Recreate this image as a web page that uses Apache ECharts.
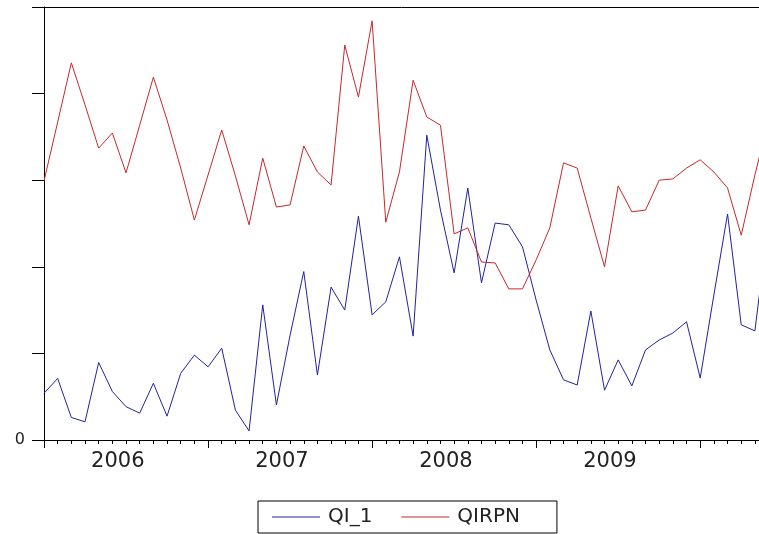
<!DOCTYPE html>
<html><head><meta charset="utf-8">
<script src="https://cdn.jsdelivr.net/npm/echarts@6/dist/echarts.min.js"></script>
<style>html,body{margin:0;padding:0;background:#fff}#c{width:759px;height:534px}</style>
</head><body><div id="c"></div>
<script>
const startYear = 2006;
const yearLabels = ['2006', '2007', '2008', '2009'];
const seriesNames = ['QI_1', 'QIRPN'];
const qi1 = [10.8,14.2,5.2,4.2,17.9,11.2,7.7,6.2,13.1,5.5,
  15.4,19.6,16.9,21.2,6.9,2.1,31.2,8.1,24.2,38.9,
  15.0,35.3,30.0,51.7,28.9,31.9,42.3,24.0,70.4,53.1,
  38.6,58.2,36.3,50.1,49.7,44.6,32.3,20.8,13.9,12.7,
  29.8,11.5,18.5,12.5,20.8,23.1,24.7,27.3,14.3,33.5,
  52.2,26.6,25.2,50.8];
const qirpn = [59.8,73.4,87.1,77.4,67.4,70.9,61.7,72.7,83.8,73.9,
  62.8,50.8,61.2,71.6,61.0,49.7,65.1,53.8,54.3,67.9,
  61.9,58.9,91.2,79.2,96.8,50.3,61.9,83.1,74.6,72.7,
  47.6,49.0,41.1,40.9,34.9,34.9,41.6,49.0,64.0,62.8,
  51.3,40.0,58.7,52.7,53.1,60.0,60.3,62.8,64.7,61.9,
  58.2,47.3,61.2,73.9];
const yearTickValues = [0, 12, 24, 36, 48];
const yearLabelValues = [5.4, 17.4, 29.4, 41.4];

const months = [];
for (let i = 0; i < qi1.length; i++) months.push(i);
const xMax = 52.3;
const blue = '#22229e', red = '#c8282a';

const chart = echarts.init(document.getElementById('c'), null, {renderer: 'canvas'});
const black = '#000';
chart.setOption({
  animation: false,
  backgroundColor: '#fff',
  grid: {left: 44, right: 0, top: 7, bottom: 94, containLabel: false},
  xAxis: [
    {type: 'value', min: 0, max: xMax, position: 'bottom',
     axisLine: {show: true, lineStyle: {color: black, width: 1}},
     axisTick: {show: true, customValues: yearTickValues, length: 8, lineStyle: {color: black}},
     axisLabel: {show: true, customValues: yearLabelValues,
       formatter: v => yearLabels[Math.floor(v / 12)] || '',
       fontFamily: 'DejaVu Sans', fontSize: 21, color: '#222', margin: 11},
     splitLine: {show: false}},
    {type: 'value', min: 0, max: xMax, position: 'bottom',
     axisLine: {show: false},
     axisTick: {show: true, customValues: months, length: 4, lineStyle: {color: black}},
     axisLabel: {show: false}, splitLine: {show: false}},
    {type: 'value', min: 0, max: xMax, position: 'top',
     axisLine: {show: true, lineStyle: {color: black, width: 1}},
     axisTick: {show: false}, axisLabel: {show: false}, splitLine: {show: false}}
  ],
  yAxis: {type: 'value', min: 0, max: 100, interval: 20,
    axisLine: {show: true, lineStyle: {color: black}},
    axisTick: {show: true, length: 12, lineStyle: {color: black}},
    axisLabel: {formatter: v => (v === 0 ? '0' : ''), fontFamily: 'DejaVu Sans', fontSize: 16, color: '#222', margin: 19},
    splitLine: {show: false}},
  legend: {left: 258, top: 501, orient: 'horizontal', padding: [5, 37, 5, 14],
    icon: 'rect', itemGap: 29, itemWidth: 48, itemHeight: 1,
    borderColor: black, borderWidth: 1,
    data: seriesNames,
    textStyle: {fontFamily: 'DejaVu Sans', fontSize: 20, lineHeight: 22, color: '#222', padding: [0, 0, 0, 3]}},
  series: [
    {name: seriesNames[0], type: 'line', xAxisIndex: 0, symbol: 'none', clip: true,
     data: qi1.map((v, i) => [months[i], v]),
     lineStyle: {color: blue, width: 1}, itemStyle: {color: blue}},
    {name: seriesNames[1], type: 'line', xAxisIndex: 0, symbol: 'none', clip: true,
     data: qirpn.map((v, i) => [months[i], v]),
     lineStyle: {color: red, width: 1}, itemStyle: {color: red}}
  ]
});
</script></body></html>
